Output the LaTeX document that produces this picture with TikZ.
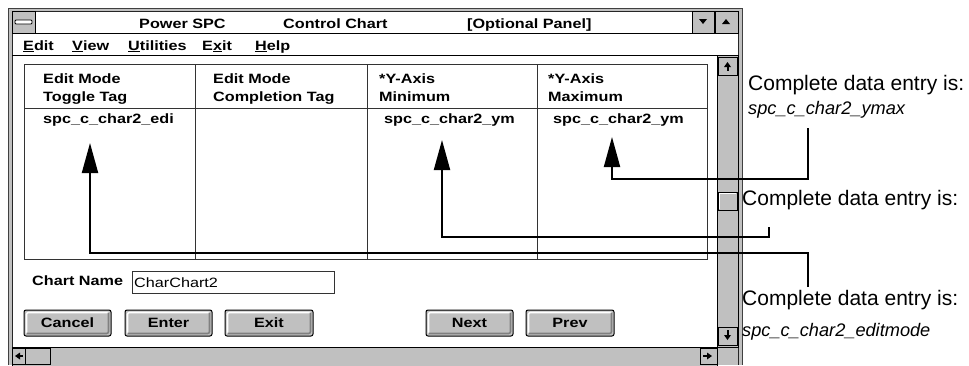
\documentclass[tikz,border=0pt]{standalone}
\usepackage{fontspec}
\setmainfont{Liberation Sans}
\newfontfamily\winfont[FakeStretch=1.2]{Liberation Sans}
\usetikzlibrary{arrows.meta,calc}
\definecolor{wgrey}{HTML}{C0C0C0}
\definecolor{wdark}{HTML}{808080}
\tikzset{
  wtext/.style={font=\winfont\bfseries\fontsize{13.5}{15}\selectfont, inner sep=0pt, anchor=base west},
  wplain/.style={font=\winfont\fontsize{13.5}{15}\selectfont, inner sep=0pt, anchor=base west},
  lab/.style={font=\fontsize{21}{24}\selectfont, inner sep=0pt, anchor=base west},
  labi/.style={font=\itshape\fontsize{18.2}{21}\selectfont, inner sep=0pt, anchor=base west},
  bevel/.style={fill=wgrey, draw=black, line width=0.8},
  wbtn/.style={draw=black, line width=1, fill=wgrey, rounded corners=2, minimum height=26, inner sep=0pt,
    font=\winfont\bfseries\fontsize{13.5}{15}\selectfont,
    path picture={
      \draw[white, line width=1.6] ($(path picture bounding box.south west)+(2.5,-2.5)$) |- ($(path picture bounding box.north east)+(-2.5,2.5)$);
      \draw[wdark, line width=1.6] ($(path picture bounding box.north east)+(-2.5,2.5)$) |- ($(path picture bounding box.south west)+(2.5,-2.5)$);
    }},
  conn/.style={draw=black, line width=2, -{Triangle[length=30pt,width=16pt]}},
  tbl/.style={draw=black!80, line width=0.9},
}
\begin{document}
\begin{tikzpicture}[x=1pt,y=-1pt]
\useasboundingbox (0,0) rectangle (969,365);
% window frame
\fill[wgrey] (8,8) rectangle (742,365);
\draw[black!75, line width=1] (8,365) -- (8,8) -- (742,8) -- (742,365);
\fill[white] (12,11) rectangle (738,365);
\draw[black!85, line width=1] (12,365) -- (12,11) -- (738,11) -- (738,365);
% title bar
\draw[black, line width=1] (12,33) -- (738,33);
\draw[bevel] (12,11) rectangle (35,33);
\draw[fill=white, draw=black, line width=0.8, rounded corners=1] (15,20) rectangle (32,24);
\node[wtext] (t1) at (139,28) {Power SPC};
\node[wtext] (t2) at (283,28) {Control Chart};
\node[wtext] (t3) at (467,28) {[Optional Panel]};
\draw[bevel] (692,11) rectangle (714,33);
\fill[black] (699,19) -- (707,19) -- (703,24) -- cycle;
\draw[bevel] (715,11) rectangle (738,33);
\fill[black] (722,24) -- (730,24) -- (726,19) -- cycle;
% menu bar
\draw[black, line width=1] (12,55) -- (738,55);
\node[wtext] (m1) at (23,50) {\underline{E}dit};
\node[wtext] (m2) at (72,50) {\underline{V}iew};
\node[wtext] (m3) at (128,50) {\underline{U}tilities};
\node[wtext] (m4) at (202,50) {E\underline{x}it};
\node[wtext] (m5) at (255,50) {\underline{H}elp};
% vertical scrollbar
\draw[fill=wgrey, draw=black, line width=0.9] (717,55) rectangle (738,347);
\draw[bevel] (718,57) rectangle (737,75);
\fill[black] (724,67) -- (731,67) -- (727.5,62) -- cycle;
\fill[black] (726.5,66) rectangle (728.5,71);
\draw[bevel] (718,192) rectangle (737,210);
\draw[white, line width=1] (719.5,208.5) |- (735.5,193.5);
\draw[bevel] (718,327) rectangle (737,345);
\fill[black] (724,335) -- (731,335) -- (727.5,340) -- cycle;
\fill[black] (726.5,330) rectangle (728.5,336);
% horizontal scrollbar
\draw[fill=wgrey, draw=black, line width=0.9] (12,347) rectangle (717,366);
\draw[bevel] (12,348) rectangle (25,364);
\fill[black] (15,356) -- (20,352.5) -- (20,359.5) -- cycle;
\fill[black] (19,355) rectangle (23,357);
\draw[bevel] (25,348) rectangle (50,364);
\draw[bevel] (700,348) rectangle (717,364);
\fill[black] (712,356) -- (707,352.5) -- (707,359.5) -- cycle;
\fill[black] (703,355) rectangle (708,357);
\fill[wgrey] (717.5,347.5) rectangle (737.5,365);
% table
\draw[tbl] (24,64) rectangle (707,259);
\draw[tbl] (24,108) -- (707,108);
\draw[tbl] (195,64) -- (195,259);
\draw[tbl] (367,64) -- (367,259);
\draw[tbl] (537,64) -- (537,259);
\node[wtext] (h1a) at (43,83) {Edit Mode};
\node[wtext] (h1b) at (43,101) {Toggle Tag};
\node[wtext] (h2a) at (213,83) {Edit Mode};
\node[wtext] (h2b) at (213,101) {Completion Tag};
\node[wtext] (h3a) at (379,83) {*Y-Axis};
\node[wtext] (h3b) at (379,101) {Minimum};
\node[wtext] (h4a) at (548,83) {*Y-Axis};
\node[wtext] (h4b) at (548,101) {Maximum};
\node[wtext] (d1) at (43,123) {spc\_c\_char2\_edi};
\node[wtext] (d3) at (384,123) {spc\_c\_char2\_ym};
\node[wtext] (d4) at (553,123) {spc\_c\_char2\_ym};
% chart name
\node[wtext] (cn) at (32,285) {Chart Name};
\node[draw=black!80, line width=0.9, minimum width=202, minimum height=22, inner sep=0pt] (cnbox) at (233,282) {};
\node[wplain] (cnv) at (134,287) {CharChart2};
% buttons
\node[wbtn, minimum width=87] (bc) at (67.5,323) {Cancel};
\node[wbtn, minimum width=87] (be) at (168.5,323) {Enter};
\node[wbtn, minimum width=88] (bx) at (269,323) {Exit};
\node[wbtn, minimum width=87] (bn) at (469.5,323) {Next};
\node[wbtn, minimum width=88] (bp) at (570,323) {Prev};
% labels
\node[lab] (l1) at (748,90) {Complete data entry is:};
\node[labi] (l1v) at (748,114) {spc\_c\_char2\_ymax};
\node[lab] (l2) at (742,205) {Complete data entry is:};
\node[lab] (l3) at (742,305) {Complete data entry is:};
\node[labi] (l3v) at (742,336) {spc\_c\_char2\_editmode};
% connectors
\coordinate (c1) at (808,128);
\coordinate (a1) at (612,137);
\coordinate (c2) at (769,227);
\coordinate (a2) at (442,140);
\coordinate (c3) at (808,287);
\coordinate (a3) at (90,143);
\draw[conn] (c1) |- ($(a1)+(0,42)$) -- (a1);
\draw[conn] (c2) |- ($(a2)+(0,97)$) -- (a2);
\draw[conn] (c3) |- ($(a3)+(0,110)$) -- (a3);
\end{tikzpicture}
\end{document}
